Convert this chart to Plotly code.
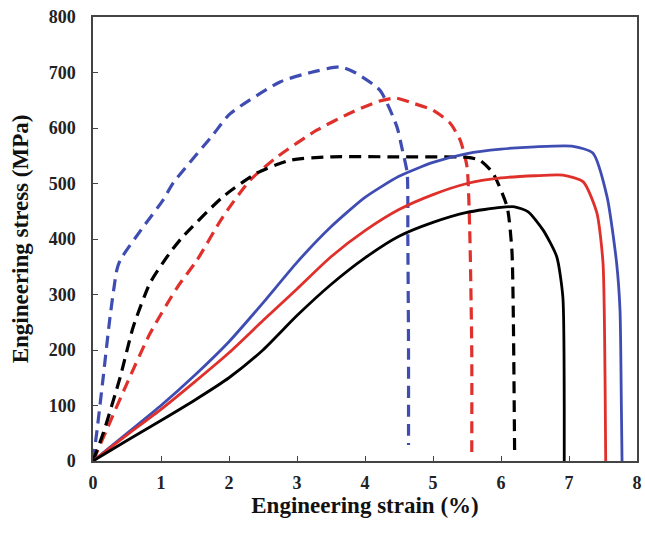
import plotly.graph_objects as go

# Engineering strain (%) and stress (MPa)
blue_solid_x = [0, 0.5, 1.0, 1.5, 2.0, 2.5, 3.0, 3.5, 4.0, 4.5, 5.0, 5.5, 6.0, 6.5, 7.06, 7.35, 7.56, 7.7, 7.75, 7.77, 7.78]
blue_solid_y = [0, 50, 100, 155, 215, 285, 358, 422, 475, 513, 538, 554, 562, 566, 567, 555, 476, 357, 272, 100, 0]

red_solid_x = [0, 0.5, 1.0, 1.5, 2.0, 2.5, 3.0, 3.5, 4.0, 4.5, 5.0, 5.5, 6.0, 6.5, 6.91, 7.21, 7.41, 7.5, 7.53, 7.54]
red_solid_y = [0, 47, 93, 143, 195, 253, 310, 368, 415, 453, 480, 500, 510, 514, 515, 503, 447, 357, 150, 0]

black_solid_x = [0, 0.5, 1.0, 1.5, 2.0, 2.5, 3.0, 3.5, 4.0, 4.5, 5.0, 5.5, 6.0, 6.2, 6.4, 6.62, 6.82, 6.91, 6.93, 6.93]
black_solid_y = [0, 37, 73, 110, 150, 200, 262, 318, 366, 405, 430, 448, 457, 458, 449, 416, 368, 295, 100, 0]

blue_dash_x = [0, 0.06, 0.15, 0.25, 0.35, 0.4, 0.74, 1.03, 1.18, 1.76, 2.01, 2.75, 3.2, 3.63, 3.85, 4.22, 4.47, 4.55, 4.62, 4.63, 4.64, 4.64]
blue_dash_y = [0, 56, 151, 259, 344, 362, 422, 470, 501, 587, 625, 683, 700, 710, 700, 668, 602, 560, 519, 400, 200, 29]

red_dash_x = [0, 0.2, 0.5, 0.84, 1.24, 1.53, 1.91, 2.31, 2.71, 3.29, 3.8, 4.2, 4.45, 4.7, 5.0, 5.25, 5.4, 5.5, 5.54, 5.57, 5.57]
red_dash_y = [0, 56, 140, 230, 313, 362, 440, 506, 548, 596, 628, 648, 654, 645, 632, 609, 578, 530, 416, 200, 5]

black_dash_x = [0, 0.15, 0.4, 0.59, 0.84, 1.13, 1.32, 1.91, 2.41, 2.9, 3.49, 4.5, 5.5, 5.69, 5.88, 6.09, 6.16, 6.18, 6.2]
black_dash_y = [0, 50, 151, 241, 321, 375, 404, 476, 519, 542, 548, 548, 547, 542, 519, 458, 380, 272, 20]

x_ticks = [0, 1, 2, 3, 4, 5, 6, 7, 8]
y_ticks = [0, 100, 200, 300, 400, 500, 600, 700, 800]

BLUE = "#3f4db3"
RED = "#e0302b"
BLACK = "#000000"

fig = go.Figure()

def add(x, y, color, dash, width):
    fig.add_trace(go.Scatter(x=x, y=y, mode="lines",
                             line=dict(color=color, width=width, dash=dash,
                                       shape="spline", smoothing=0.6),
                             showlegend=False, hoverinfo="skip"))

add(blue_dash_x, blue_dash_y, BLUE, "12px,7px", 3.2)
add(red_dash_x, red_dash_y, RED, "12px,7px", 3.2)
add(black_dash_x, black_dash_y, BLACK, "12px,7px", 3.2)
add(blue_solid_x, blue_solid_y, BLUE, "solid", 2.8)
add(red_solid_x, red_solid_y, RED, "solid", 2.8)
add(black_solid_x, black_solid_y, BLACK, "solid", 2.8)

tickfont = dict(family="Liberation Serif", size=18, color="#222", weight="bold")
titlefont = dict(family="Liberation Serif", size=23, color="#111", weight="bold")

fig.update_layout(
    width=645, height=533,
    margin=dict(l=93, r=8, t=17, b=72),
    plot_bgcolor="white", paper_bgcolor="white",
    xaxis=dict(range=[0, 8], tickvals=x_ticks, ticktext=[str(v) for v in x_ticks],
               ticks="inside", ticklen=5, tickcolor="#444", tickwidth=1.2,
               showline=True, linecolor="#444", linewidth=1.5, mirror=True,
               showgrid=False, zeroline=False, tickfont=tickfont, automargin=False,
               ticklabelstandoff=5, ticklabeloverflow="allow",
               title=dict(text="Engineering strain (%)", font=titlefont, standoff=4)),
    yaxis=dict(range=[0, 800], tickvals=y_ticks, ticktext=[str(v) for v in y_ticks],
               ticks="inside", ticklen=5, tickcolor="#444", tickwidth=1.2,
               showline=True, linecolor="#444", linewidth=1.5, mirror=True,
               showgrid=False, zeroline=False, tickfont=tickfont, automargin=False,
               ticklabelstandoff=12, ticklabeloverflow="allow",
               title=dict(text="Engineering stress (MPa)", font=titlefont, standoff=14)),
)

# remove the browser's default 8px body margin so the figure fills the window
fig.write_html("out.html", config={"displayModeBar": False},
               post_script="document.body.style.margin='0';")
